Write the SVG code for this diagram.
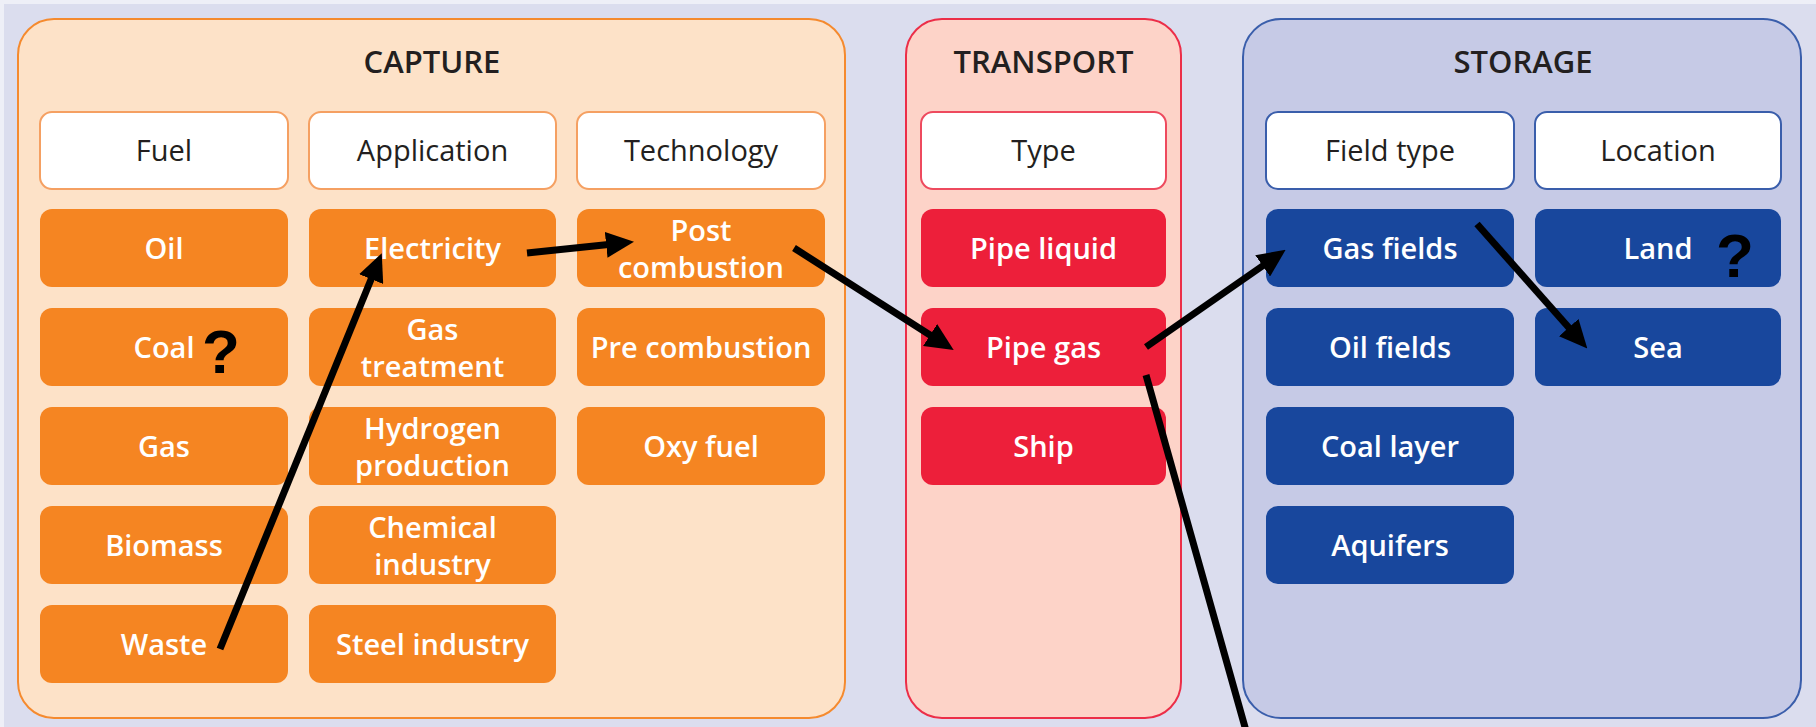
<svg xmlns="http://www.w3.org/2000/svg" width="1816" height="727" viewBox="0 0 1816 727">
  <defs>
    <style>
      .frame-capture { fill: #FDE2C8; stroke: #F58A2E; stroke-width: 2; }
      .frame-transport { fill: #FDD3C8; stroke: #EC2E48; stroke-width: 2; }
      .frame-storage { fill: #C6CAE6; stroke: #3A5EAB; stroke-width: 2; }
      .hdr-capture { fill: #FFFFFF; stroke: #F5A062; stroke-width: 2; }
      .hdr-transport { fill: #FFFFFF; stroke: #EE4A5E; stroke-width: 2; }
      .hdr-storage { fill: #FFFFFF; stroke: #3A5EAB; stroke-width: 2; }
      .item-capture { fill: #F58522; }
      .item-transport { fill: #ED1F3A; }
      .item-storage { fill: #18479D; }
      .title { font-family: "Open Sans", "Noto Sans", sans-serif; font-size: 31px; font-weight: 600; fill: #231F20; text-anchor: middle; }
      .hdr { font-family: "Open Sans", "Noto Sans", sans-serif; font-size: 29px; font-weight: 500; fill: #231F20; text-anchor: middle; }
      .lbl { font-family: "Open Sans", "Noto Sans", sans-serif; font-size: 29px; font-weight: 600; fill: #FFFFFF; text-anchor: middle; }
      .qm { font-family: "Liberation Sans", Arial, sans-serif; font-size: 62px; font-weight: 700; fill: #000000; text-anchor: middle; }
      .conn { stroke: #000000; stroke-width: 7; fill: none; }
    </style>
    <marker id="head" markerUnits="userSpaceOnUse" markerWidth="28" markerHeight="26" viewBox="0 0 28 26" refX="12" refY="13" orient="auto">
      <path d="M0,0 L28,13 L0,26 Z" fill="#000000"/>
    </marker>
  </defs>

  <!-- page background -->
  <rect x="0" y="0" width="1816" height="727" fill="#EEEFF7"/>
  <rect x="4" y="4" width="1812" height="723" fill="#DBDDEE"/>

  <!-- CAPTURE section -->
  <g id="capture">
    <rect class="frame-capture" x="18" y="19" width="827" height="699" rx="36"/>
    <text class="title" x="432" y="73">CAPTURE</text>
  </g>
  <g id="capture-fuel">
    <rect class="hdr-capture" x="40" y="112" width="248" height="77" rx="12"/>
    <text class="hdr" x="164" y="161">Fuel</text>
  </g>
  <g id="capture-application">
    <rect class="hdr-capture" x="309" y="112" width="247" height="77" rx="12"/>
    <text class="hdr" x="432.5" y="161">Application</text>
  </g>
  <g id="capture-technology">
    <rect class="hdr-capture" x="577" y="112" width="248" height="77" rx="12"/>
    <text class="hdr" x="701" y="161">Technology</text>
  </g>

  <g id="fuel-oil">
    <rect class="item-capture" x="40" y="209" width="248" height="78" rx="12"/>
    <text class="lbl" x="164" y="258.5">Oil</text>
  </g>
  <g id="fuel-coal">
    <rect class="item-capture" x="40" y="308" width="248" height="78" rx="12"/>
    <text class="lbl" x="164" y="357.5">Coal</text>
    <text class="qm" x="221" y="373">?</text>
  </g>
  <g id="fuel-gas">
    <rect class="item-capture" x="40" y="407" width="248" height="78" rx="12"/>
    <text class="lbl" x="164" y="456.5">Gas</text>
  </g>
  <g id="fuel-biomass">
    <rect class="item-capture" x="40" y="506" width="248" height="78" rx="12"/>
    <text class="lbl" x="164" y="555.5">Biomass</text>
  </g>
  <g id="fuel-waste">
    <rect class="item-capture" x="40" y="605" width="248" height="78" rx="12"/>
    <text class="lbl" x="164" y="654.5">Waste</text>
  </g>

  <g id="app-electricity">
    <rect class="item-capture" x="309" y="209" width="247" height="78" rx="12"/>
    <text class="lbl" x="432.5" y="258.5">Electricity</text>
  </g>
  <g id="app-gas-treatment">
    <rect class="item-capture" x="309" y="308" width="247" height="78" rx="12"/>
    <text class="lbl" x="432.5" y="340">Gas</text>
    <text class="lbl" x="432.5" y="377">treatment</text>
  </g>
  <g id="app-hydrogen">
    <rect class="item-capture" x="309" y="407" width="247" height="78" rx="12"/>
    <text class="lbl" x="432.5" y="439">Hydrogen</text>
    <text class="lbl" x="432.5" y="476">production</text>
  </g>
  <g id="app-chemical">
    <rect class="item-capture" x="309" y="506" width="247" height="78" rx="12"/>
    <text class="lbl" x="432.5" y="538">Chemical</text>
    <text class="lbl" x="432.5" y="575">industry</text>
  </g>
  <g id="app-steel">
    <rect class="item-capture" x="309" y="605" width="247" height="78" rx="12"/>
    <text class="lbl" x="432.5" y="654.5">Steel industry</text>
  </g>

  <g id="tech-post">
    <rect class="item-capture" x="577" y="209" width="248" height="78" rx="12"/>
    <text class="lbl" x="701" y="241">Post</text>
    <text class="lbl" x="701" y="278">combustion</text>
  </g>
  <g id="tech-pre">
    <rect class="item-capture" x="577" y="308" width="248" height="78" rx="12"/>
    <text class="lbl" x="701" y="357.5">Pre combustion</text>
  </g>
  <g id="tech-oxy">
    <rect class="item-capture" x="577" y="407" width="248" height="78" rx="12"/>
    <text class="lbl" x="701" y="456.5">Oxy fuel</text>
  </g>

  <!-- TRANSPORT section -->
  <g id="transport">
    <rect class="frame-transport" x="906" y="19" width="275" height="699" rx="36"/>
    <text class="title" x="1043.5" y="73">TRANSPORT</text>
  </g>
  <g id="transport-type">
    <rect class="hdr-transport" x="921" y="112" width="245" height="77" rx="12"/>
    <text class="hdr" x="1043.5" y="161">Type</text>
  </g>
  <g id="type-pipe-liquid">
    <rect class="item-transport" x="921" y="209" width="245" height="78" rx="12"/>
    <text class="lbl" x="1043.5" y="258.5">Pipe liquid</text>
  </g>
  <g id="type-pipe-gas">
    <rect class="item-transport" x="921" y="308" width="245" height="78" rx="12"/>
    <text class="lbl" x="1043.5" y="357.5">Pipe gas</text>
  </g>
  <g id="type-ship">
    <rect class="item-transport" x="921" y="407" width="245" height="78" rx="12"/>
    <text class="lbl" x="1043.5" y="456.5">Ship</text>
  </g>

  <!-- STORAGE section -->
  <g id="storage">
    <rect class="frame-storage" x="1243" y="19" width="558" height="699" rx="38"/>
    <text class="title" x="1523" y="73">STORAGE</text>
  </g>
  <g id="storage-field-type">
    <rect class="hdr-storage" x="1266" y="112" width="248" height="77" rx="12"/>
    <text class="hdr" x="1390" y="161">Field type</text>
  </g>
  <g id="storage-location">
    <rect class="hdr-storage" x="1535" y="112" width="246" height="77" rx="12"/>
    <text class="hdr" x="1658" y="161">Location</text>
  </g>
  <g id="field-gas">
    <rect class="item-storage" x="1266" y="209" width="248" height="78" rx="12"/>
    <text class="lbl" x="1390" y="258.5">Gas fields</text>
  </g>
  <g id="field-oil">
    <rect class="item-storage" x="1266" y="308" width="248" height="78" rx="12"/>
    <text class="lbl" x="1390" y="357.5">Oil fields</text>
  </g>
  <g id="field-coal">
    <rect class="item-storage" x="1266" y="407" width="248" height="78" rx="12"/>
    <text class="lbl" x="1390" y="456.5">Coal layer</text>
  </g>
  <g id="field-aquifers">
    <rect class="item-storage" x="1266" y="506" width="248" height="78" rx="12"/>
    <text class="lbl" x="1390" y="555.5">Aquifers</text>
  </g>
  <g id="location-land">
    <rect class="item-storage" x="1535" y="209" width="246" height="78" rx="12"/>
    <text class="lbl" x="1658" y="258.5">Land</text>
    <text class="qm" x="1735" y="277">?</text>
  </g>
  <g id="location-sea">
    <rect class="item-storage" x="1535" y="308" width="246" height="78" rx="12"/>
    <text class="lbl" x="1658" y="357.5">Sea</text>
  </g>

  <!-- connectors -->
  <g id="connectors">
    <line class="conn" x1="220" y1="649" x2="375.7" y2="268" marker-end="url(#head)"/>
    <line class="conn" x1="527" y1="253" x2="618.1" y2="243.5" marker-end="url(#head)"/>
    <line class="conn" x1="794" y1="248" x2="940.2" y2="341.5" marker-end="url(#head)"/>
    <line class="conn" x1="1146" y1="347" x2="1272.5" y2="259" marker-end="url(#head)"/>
    <line class="conn" x1="1477" y1="224" x2="1576.7" y2="336.5" marker-end="url(#head)"/>
    <line class="conn" x1="1146" y1="375" x2="1248.6" y2="740"/>
  </g>
</svg>
